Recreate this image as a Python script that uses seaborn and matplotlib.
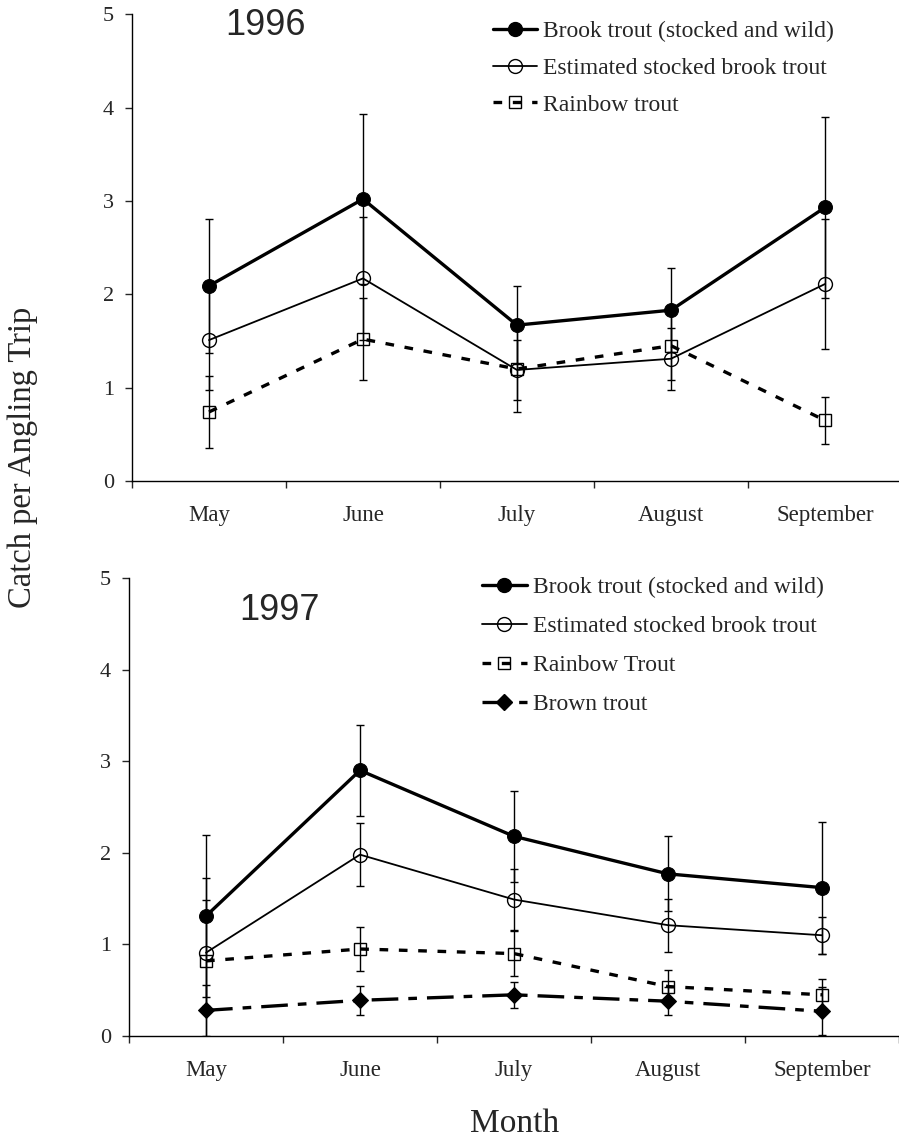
import matplotlib
matplotlib.use("Agg")
import numpy as np
import pandas as pd
import matplotlib.pyplot as plt
from matplotlib.lines import Line2D
import seaborn as sns

months = ["May", "June", "July", "August", "September"]

# 1996
brook_96 = [2.09, 3.02, 1.67, 1.83, 2.93]
brook_96_err = [0.72, 0.91, 0.42, 0.45, 0.97]
est_96 = [1.51, 2.17, 1.19, 1.31, 2.11]
est_96_err = [0.53, 0.66, 0.32, 0.33, 0.70]
rainbow_96 = [0.74, 1.52, 1.20, 1.45, 0.65]
rainbow_96_err = [0.39, 0.44, 0.46, 0.37, 0.25]

# 1997
brook_97 = [1.31, 2.90, 2.18, 1.77, 1.62]
brook_97_err = [0.88, 0.50, 0.50, 0.41, 0.72]
est_97 = [0.91, 1.98, 1.49, 1.21, 1.10]
est_97_err = [0.58, 0.34, 0.33, 0.29, 0.20]
rainbow_97 = [0.82, 0.95, 0.90, 0.54, 0.45]
rainbow_97_err = [0.90, 0.24, 0.25, 0.18, 0.17]
brown_97 = [0.28, 0.39, 0.45, 0.38, 0.27]
brown_97_err = [0.28, 0.16, 0.14, 0.15, 0.26]

sns.set_style("ticks")
plt.rcParams["font.family"] = ["Liberation Serif", "DejaVu Serif"]

styles = {
    "brook": dict(linestyle="-", linewidth=2.4, marker="o", markersize=10,
                  markerfacecolor="black", markeredgecolor="black"),
    "est": dict(linestyle="-", linewidth=1.3, marker="o", markersize=10,
                markerfacecolor="none", markeredgecolor="black", markeredgewidth=1.0),
    "rainbow": dict(linestyle=(0, (2.6, 3.2)), linewidth=2.4, marker="s", markersize=9,
                    markerfacecolor="none", markeredgecolor="black", markeredgewidth=1.0),
    "brown": dict(linestyle=(0, (8, 3, 2.6, 3)), linewidth=2.4, marker="D", markersize=8,
                  markerfacecolor="black", markeredgecolor="black"),
}


def draw(ax, series, year, year_pos, leg_anchor, spacing):
    x = np.arange(len(months))
    handles = []
    for label, key, vals, errs in series:
        ax.errorbar(x, vals, yerr=errs, fmt="none", ecolor="black",
                    elinewidth=1.0, capsize=3, capthick=1.0, zorder=2)
        df = pd.DataFrame({"pos": x, "catch": vals})
        sns.lineplot(data=df, x="pos", y="catch", ax=ax, color="black",
                     sort=False, zorder=3, **styles[key])
        handles.append(Line2D([], [], color="black", label=label, **styles[key]))

    ax.set_xlim(-0.5, 4.5)
    ax.set_ylim(0, 5)
    ax.set_xticks(np.arange(-0.5, 5, 1))
    ax.set_xticklabels([])
    ax.set_xticks(x, minor=True)
    ax.set_xticklabels(months, minor=True, fontsize=16.5)
    ax.tick_params(axis="x", which="major", direction="out", length=5, width=1)
    ax.tick_params(axis="x", which="minor", length=0, pad=17)
    ax.set_yticks(range(6))
    ax.tick_params(axis="y", direction="out", length=5, width=1, labelsize=16, pad=8)
    ax.set_xlabel("")
    ax.set_ylabel("")
    for s in ["top", "right"]:
        ax.spines[s].set_visible(False)
    for s in ["left", "bottom"]:
        ax.spines[s].set_linewidth(1.0)
        ax.spines[s].set_color("black")

    ax.text(year_pos[0], year_pos[1], year, transform=ax.transAxes,
            ha="center", va="center", fontsize=26, family="Liberation Sans")
    ax.legend(handles=handles, loc="upper left", bbox_to_anchor=leg_anchor,
              frameon=False, fontsize=17, handlelength=1.9, handletextpad=0.25,
              labelspacing=spacing, borderaxespad=0)


fig = plt.figure(figsize=(8.99, 11.4), dpi=100)
ax1 = fig.add_axes([0.1468, 0.578, 0.8565, 0.4096])
ax2 = fig.add_axes([0.1435, 0.0912, 0.8565, 0.4018])

draw(ax1, [
    ("Brook trout (stocked and wild)", "brook", brook_96, brook_96_err),
    ("Estimated stocked brook trout", "est", est_96, est_96_err),
    ("Rainbow trout", "rainbow", rainbow_96, rainbow_96_err),
], "1996", (0.174, 0.976), (0.456, 1.006), 0.64)

draw(ax2, [
    ("Brook trout (stocked and wild)", "brook", brook_97, brook_97_err),
    ("Estimated stocked brook trout", "est", est_97, est_97_err),
    ("Rainbow Trout", "rainbow", rainbow_97, rainbow_97_err),
    ("Brown trout", "brown", brown_97, brown_97_err),
], "1997", (0.196, 0.930), (0.446, 1.023), 0.74)

fig.text(0.025, 0.599, "Catch per Angling Trip", rotation=90, ha="center",
         va="center", fontsize=23.5)
fig.text(0.572, 0.007, "Month", ha="center", va="baseline", fontsize=24)

fig.savefig("out.png", dpi=100)
